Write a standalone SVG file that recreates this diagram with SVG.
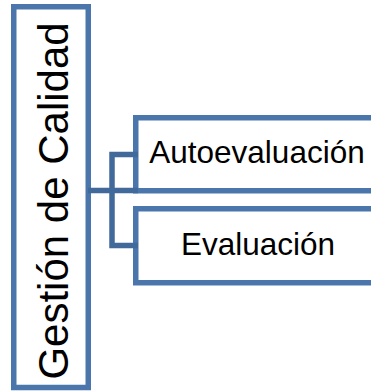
<svg xmlns="http://www.w3.org/2000/svg" width="371" height="391" viewBox="0 0 371 391">
<style>
.box{fill:#ffffff;stroke:#4A76AC;stroke-width:5.5}
.lbl{font-family:"Liberation Sans",Arial,sans-serif;fill:#000000}
.conn{fill:none;stroke:#41699A;stroke-width:5.5}
</style>
<rect width="371" height="391" fill="#ffffff"/>
<g id="node-gestion">
<rect class="box" x="13.75" y="6.75" width="74.5" height="380.75"/>
<text class="lbl" font-size="42" text-anchor="middle" transform="translate(68,201) rotate(-90)">Gestión de Calidad</text>
</g>
<g id="node-autoevaluacion">
<rect class="box" x="135.75" y="117.75" width="250" height="73"/>
<text class="lbl" font-size="31.5" text-anchor="middle" x="257" y="163">Autoevaluación</text>
</g>
<g id="node-evaluacion">
<rect class="box" x="135.75" y="208.75" width="250" height="74"/>
<text class="lbl" font-size="31.5" text-anchor="middle" x="258" y="255">Evaluación</text>
</g>
<g id="connectors">
<path class="conn" d="M88,190.5 H138"/>
<path class="conn" d="M138,154.5 H112 V245.5 H138"/>
</g>
</svg>
